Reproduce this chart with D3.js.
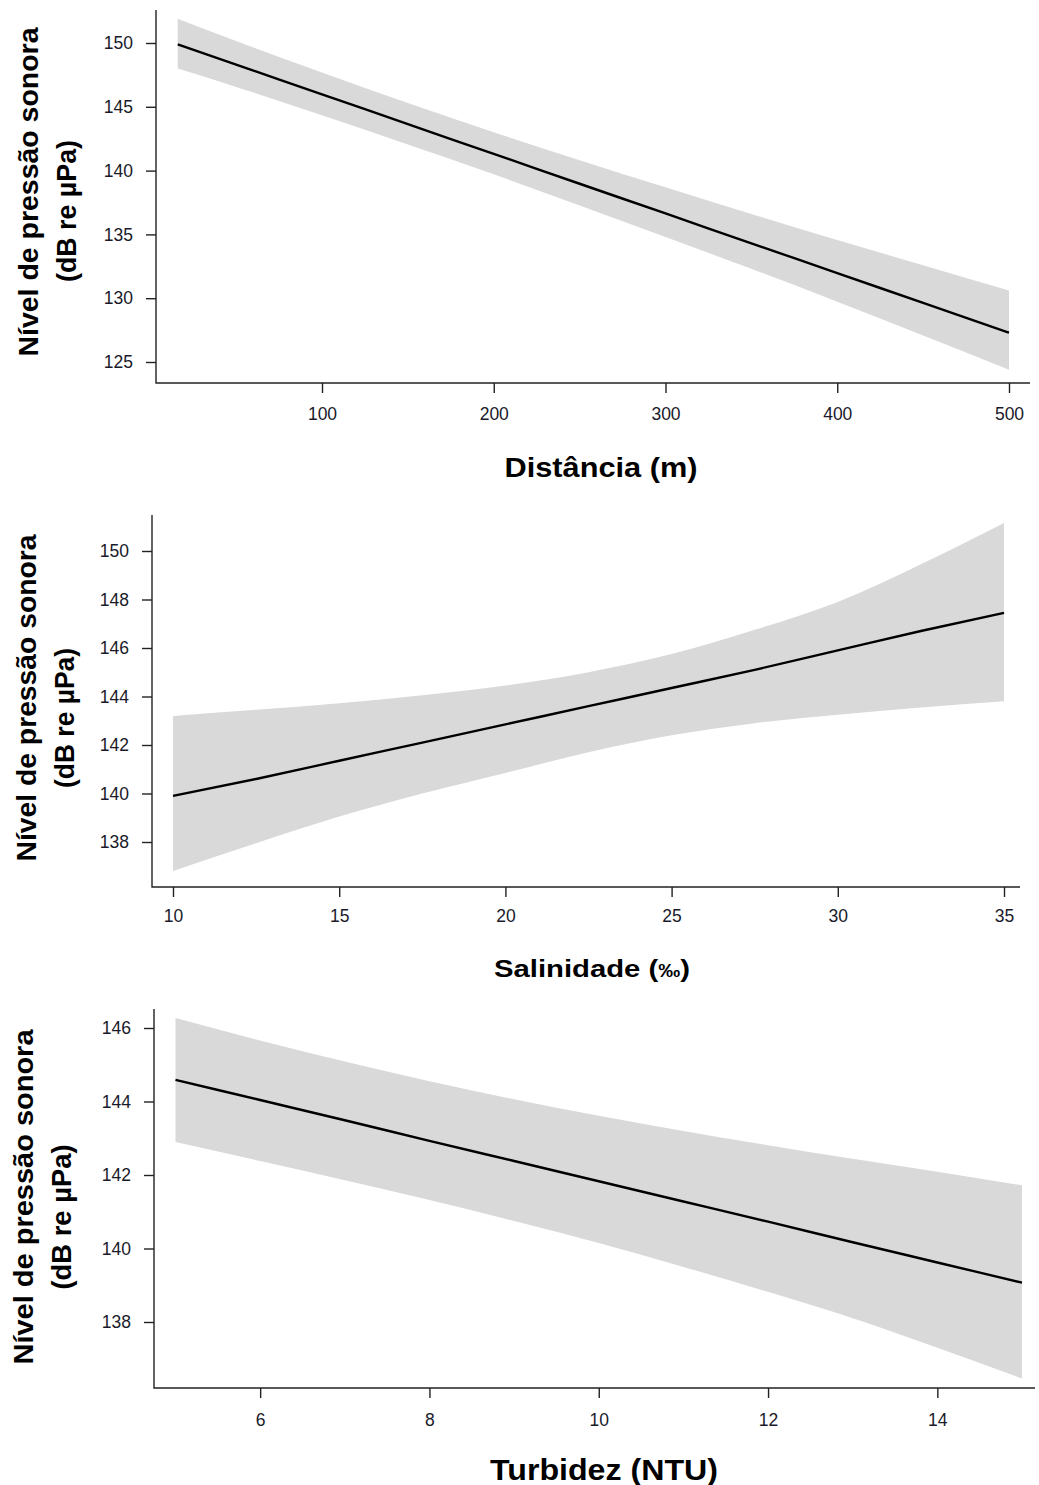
<!DOCTYPE html>
<html>
<head>
<meta charset="utf-8">
<script src="https://cdn.jsdelivr.net/npm/d3@7"></script>
<style>
  body { margin: 0; background: #fff; }
  svg text { font-family: "Liberation Sans", Arial, sans-serif; }
</style>
</head>
<body>
<svg id="canvas" width="1039" height="1485"></svg>
<script>
// --- data ---
// panel 1: distance
let distX     = [16, 50, 100, 150, 200, 250, 300, 350, 400, 450, 500]
let distFit   = [149.90, 148.31, 145.98, 143.64, 141.31, 138.97, 136.64, 134.30, 131.97, 129.63, 127.30]
let distUpper = [151.90, 150.16, 147.68, 145.29, 143.01, 140.82, 138.69, 136.60, 134.57, 132.58, 130.60]
let distLower = [148.00, 146.56, 144.33, 142.04, 139.71, 137.27, 134.79, 132.30, 129.72, 127.08, 124.40]
let distXTicks = [100, 200, 300, 400, 500]
let distYTicks = [125, 130, 135, 140, 145, 150]

// panel 2: salinity
let salX     = [10, 12.5, 15, 17.5, 20, 22.5, 25, 27.5, 30, 32.5, 35]
let salFit   = [139.90, 140.60, 141.35, 142.10, 142.85, 143.60, 144.35, 145.10, 145.90, 146.70, 147.45]
let salUpper = [143.20, 143.45, 143.72, 144.05, 144.45, 145.00, 145.75, 146.75, 147.90, 149.45, 151.15]
let salLower = [136.80, 137.95, 139.05, 140.00, 140.85, 141.70, 142.40, 142.90, 143.25, 143.55, 143.80]
let salXTicks = [10, 15, 20, 25, 30, 35]
let salYTicks = [138, 140, 142, 144, 146, 148, 150]

// panel 3: turbidity
let turbX     = [5, 6, 7, 8, 9, 10, 11, 12, 13, 14, 15]
let turbFit   = [144.59, 144.04, 143.49, 142.93, 142.38, 141.83, 141.28, 140.73, 140.17, 139.62, 139.07]
let turbUpper = [146.27, 145.66, 145.09, 144.55, 144.06, 143.61, 143.20, 142.81, 142.44, 142.09, 141.72]
let turbLower = [142.90, 142.38, 141.86, 141.32, 140.75, 140.15, 139.50, 138.82, 138.10, 137.30, 136.46]
let turbXTicks = [6, 8, 10, 12, 14]
let turbYTicks = [138, 140, 142, 144, 146]

let yTitle1 = 'Nível de pressão sonora'
let yTitle2 = '(dB re µPa)'

let canvas = d3.select('#canvas')

let drawPanel = (p) => {
    let xScale = d3.scaleLinear().domain(p.xDom).range(p.xRange)
    let yScale = d3.scaleLinear().domain(p.yDom).range(p.yRange)
    let rows = p.xs.map((x, i) => ({x: x, fit: p.fit[i], lo: p.lower[i], hi: p.upper[i]}))

    let g = canvas.append('g')

    // confidence band
    g.append('path')
        .datum(rows)
        .attr('fill', '#d9d9d9')
        .attr('d', d3.area()
            .curve(d3.curveMonotoneX)
            .x(d => xScale(d.x))
            .y0(d => yScale(d.lo))
            .y1(d => yScale(d.hi)))

    // fitted line
    g.append('path')
        .datum(rows)
        .attr('fill', 'none')
        .attr('stroke', '#000')
        .attr('stroke-width', 2.4)
        .attr('d', d3.line().curve(d3.curveMonotoneX).x(d => xScale(d.x)).y(d => yScale(d.fit)))

    // L shaped frame
    g.append('path')
        .attr('d', `M${p.left},${p.top}V${p.bottom}H${p.right}`)
        .attr('fill', 'none')
        .attr('stroke', '#222')
        .attr('stroke-width', 1.4)

    let yAxis = g.append('g')
        .attr('transform', `translate(${p.left},0)`)
        .call(d3.axisLeft(yScale).tickValues(p.yTicks).tickSize(10).tickPadding(13).tickFormat(d3.format('d')))
    let xAxis = g.append('g')
        .attr('transform', `translate(0,${p.bottom})`)
        .call(d3.axisBottom(xScale).tickValues(p.xTicks).tickSize(10).tickPadding(p.xPad).tickFormat(d3.format('d')))

    for (let ax of [yAxis, xAxis]) {
        ax.select('.domain').remove()
        ax.selectAll('line').attr('stroke', '#222').attr('stroke-width', 1.4)
        ax.selectAll('text')
            .attr('fill', '#1a1a2a')
            .style('font-size', '17.5px')
            .style('font-family', '"Liberation Sans", Arial, sans-serif')
    }

    // y title (two lines)
    g.append('text')
        .attr('transform', `translate(${p.yt1[0]},${p.yt1[1]}) rotate(-90)`)
        .attr('text-anchor', 'middle')
        .attr('dominant-baseline', 'central')
        .style('font-size', '27px')
        .style('font-weight', 'bold')
        .attr('textLength', p.yt1[2])
        .attr('lengthAdjust', 'spacingAndGlyphs')
        .text(yTitle1)
    g.append('text')
        .attr('transform', `translate(${p.yt2[0]},${p.yt2[1]}) rotate(-90)`)
        .attr('text-anchor', 'middle')
        .attr('dominant-baseline', 'central')
        .style('font-size', '27px')
        .style('font-weight', 'bold')
        .attr('textLength', p.yt2[2])
        .attr('lengthAdjust', 'spacingAndGlyphs')
        .text(yTitle2)

    // x title
    let xt = g.append('text')
        .attr('x', p.xt[0])
        .attr('y', p.xt[1])
        .attr('text-anchor', 'middle')
        .style('font-size', p.xtSize + 'px')
        .style('font-weight', 'bold')
        .attr('textLength', p.xt[2])
        .attr('lengthAdjust', 'spacingAndGlyphs')
    if (p.xTitleUnit) {
        xt.append('tspan').text(p.xTitle)
        xt.append('tspan').style('font-size', (p.xtSize * 0.75) + 'px').text(p.xTitleUnit)
        xt.append('tspan').text(')')
    } else {
        xt.text(p.xTitle)
    }
}

drawPanel({
    xs: distX, fit: distFit, upper: distUpper, lower: distLower,
    xTicks: distXTicks, yTicks: distYTicks,
    xDom: [100, 500], xRange: [322, 1009],
    yDom: [125, 150], yRange: [362, 43],
    left: 156, right: 1030, top: 10, bottom: 383, xPad: 15,
    yt1: [29, 192, 329], yt2: [67, 211, 142],
    xt: [601, 477, 193], xtSize: 27, xTitle: 'Distância (m)'
})

drawPanel({
    xs: salX, fit: salFit, upper: salUpper, lower: salLower,
    xTicks: salXTicks, yTicks: salYTicks,
    xDom: [10, 35], xRange: [173, 1004],
    yDom: [138, 150], yRange: [842, 551],
    left: 152, right: 1020, top: 515, bottom: 887, xPad: 13,
    yt1: [27, 698, 327], yt2: [65, 718, 140],
    xt: [592, 977, 196], xtSize: 24, xTitle: 'Salinidade (', xTitleUnit: '‰'
})

drawPanel({
    xs: turbX, fit: turbFit, upper: turbUpper, lower: turbLower,
    xTicks: turbXTicks, yTicks: turbYTicks,
    xDom: [5, 15], xRange: [175.5, 1022],
    yDom: [138, 146], yRange: [1322, 1028],
    left: 154, right: 1035, top: 1009, bottom: 1388, xPad: 16,
    yt1: [24, 1197, 335], yt2: [62, 1217, 145],
    xt: [604, 1480, 228], xtSize: 29, xTitle: 'Turbidez (NTU)'
})
</script>
</body>
</html>
